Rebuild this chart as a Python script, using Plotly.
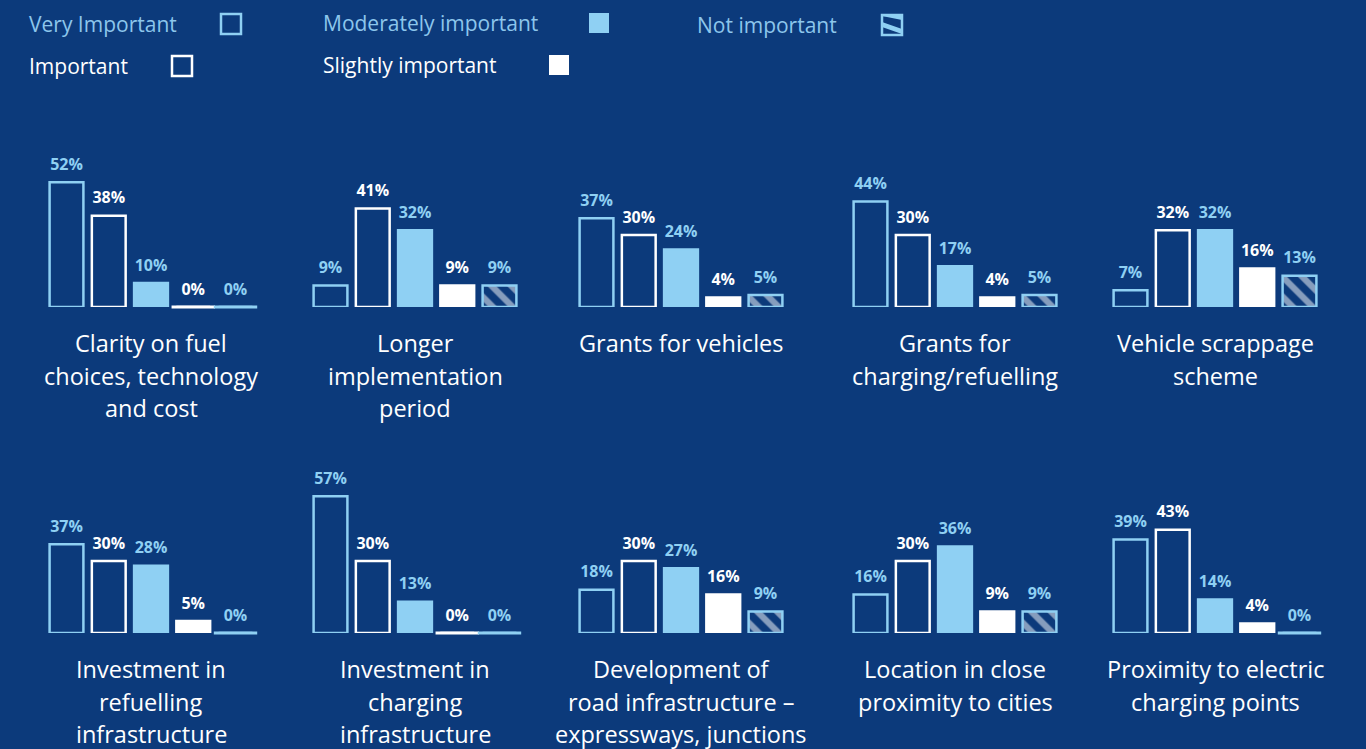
import plotly.graph_objects as go

# Survey responses (% of respondents) per support measure
series = ["Very Important", "Important", "Moderately important",
          "Slightly important", "Not important"]

measures = [
    ["Clarity on fuel", "choices, technology", "and cost"],
    ["Longer", "implementation", "period"],
    ["Grants for vehicles"],
    ["Grants for", "charging/refuelling"],
    ["Vehicle scrappage", "scheme"],
    ["Investment in", "refuelling", "infrastructure"],
    ["Investment in", "charging", "infrastructure"],
    ["Development of", "road infrastructure –", "expressways, junctions"],
    ["Location in close", "proximity to cities"],
    ["Proximity to electric", "charging points"],
]

very_important = [52, 9, 37, 44, 7, 37, 57, 18, 16, 39]
important = [38, 41, 30, 30, 32, 30, 30, 30, 30, 43]
moderately_important = [10, 32, 24, 17, 32, 28, 13, 27, 36, 14]
slightly_important = [0, 9, 4, 4, 16, 5, 0, 16, 9, 4]
not_important = [0, 9, 5, 5, 13, 0, 0, 9, 9, 0]

BG = "#0c3a7b"
LIGHT = "#8fd0f3"
LEGEND_LIGHT = "#8cc6ec"
WHITE = "#ffffff"
FONT = "Open Sans"

W, H = 1366, 749

# per-series styling
fill_colors = [BG, BG, LIGHT, WHITE, BG]
line_colors = [LIGHT, WHITE, LIGHT, WHITE, LIGHT]
pattern_shapes = ["", "", "", "", "\\"]
label_colors = [LIGHT, WHITE, LIGHT, WHITE, LIGHT]

col_centers = [151, 415, 681, 955, 1215]
row_bases = [307, 633]
row_label_top = [343, 669]
px_per_pct = 2.4
y_max = 60
slot = 42.25

fig = go.Figure()
layout_axes = {}

for i, label_lines in enumerate(measures):
    r, c = divmod(i, 5)
    vals = [very_important[i], important[i], moderately_important[i],
            slightly_important[i], not_important[i]]
    ax = "" if i == 0 else str(i + 1)
    xa, ya = "x" + ax, "y" + ax

    cx = col_centers[c]
    x0 = (cx - 2.5 * slot) / W
    x1 = (cx + 2.5 * slot) / W
    base = row_bases[r]
    y0 = 1 - base / H
    y1 = 1 - (base - y_max * px_per_pct) / H

    layout_axes["xaxis" + ax] = dict(domain=[x0, x1], anchor=ya, visible=False,
                                     type="category", range=[-0.5, 4.5],
                                     categoryorder="array", categoryarray=series)
    layout_axes["yaxis" + ax] = dict(domain=[y0, y1], anchor=xa, visible=False,
                                     range=[0, y_max])

    fig.add_trace(go.Bar(
        x=series, y=vals, xaxis=xa, yaxis=ya, width=0.8,
        marker=dict(color=fill_colors,
                    line=dict(color=line_colors, width=2.5),
                    pattern=dict(shape=pattern_shapes, fgcolor=LIGHT,
                                 bgcolor=BG, size=14, solidity=0.45)),
        showlegend=False, hoverinfo="skip"))

    # flat marks for zero responses
    zx = [s for s, v in zip(series, vals) if v == 0]
    zc = [lc for lc, v in zip(line_colors, vals) if v == 0]
    if zx:
        fig.add_trace(go.Scatter(
            x=zx, y=[0] * len(zx), xaxis=xa, yaxis=ya, mode="markers",
            marker=dict(symbol="line-ew", size=31, line=dict(color=zc, width=3)),
            showlegend=False, hoverinfo="skip", cliponaxis=False))

    # value labels, lifted by an invisible marker
    fig.add_trace(go.Scatter(
        x=series, y=vals, xaxis=xa, yaxis=ya, mode="markers+text",
        marker=dict(size=12, opacity=0),
        text=[f"{v}%" for v in vals], textposition="top center",
        textfont=dict(family=FONT, size=16, color=label_colors, weight="bold"),
        showlegend=False, hoverinfo="skip", cliponaxis=False))

    for k, line in enumerate(label_lines):
        fig.add_annotation(
            x=cx / W, y=1 - (row_label_top[r] + 32.5 * k) / H,
            xref="paper", yref="paper", xanchor="center", yanchor="middle",
            text=line, showarrow=False,
            font=dict(family=FONT, size=23.5, color=WHITE))

# legend row drawn as text + swatches
legend_items = [
    ("Very Important", 27, 24, 220, LEGEND_LIGHT, LIGHT, "outline"),
    ("Moderately important", 321, 23, 588, LEGEND_LIGHT, LIGHT, "fill"),
    ("Not important", 695, 25, 881, LEGEND_LIGHT, LIGHT, "hatch"),
    ("Important", 27, 66, 171, WHITE, WHITE, "outline"),
    ("Slightly important", 321, 65, 548, WHITE, WHITE, "fill"),
]
px = lambda v: v / W
py = lambda v: 1 - v / H
shapes = []
for name, tx, ty, sx, tcol, col, kind in legend_items:
    fig.add_annotation(x=tx / W, y=1 - ty / H, xref="paper", yref="paper",
                       xanchor="left", yanchor="middle", text=name,
                       showarrow=False,
                       font=dict(family=FONT, size=21, color=tcol))
    sy0, sy1 = ty - 10, ty + 10
    bx0, bx1 = sx + 1, sx + 21
    if kind == "fill":
        shapes.append(dict(type="rect", xref="paper", yref="paper",
                           x0=px(bx0), x1=px(bx1), y0=py(sy1), y1=py(sy0),
                           fillcolor=col, line=dict(width=0)))
    else:
        shapes.append(dict(type="rect", xref="paper", yref="paper",
                           x0=px(bx0), x1=px(bx1), y0=py(sy1), y1=py(sy0),
                           fillcolor=BG, line=dict(color=col, width=2.5)))
        if kind == "hatch":
            path = (f"M {px(bx0)},{py(sy0)} L {px(bx1)},{py(sy0)} "
                    f"L {px(bx1)},{py(sy0 + 5)} L {px(bx0)},{py(sy0 + 1)} Z "
                    f"M {px(bx0)},{py(sy0 + 7)} L {px(bx1)},{py(sy0 + 14)} "
                    f"L {px(bx1)},{py(sy0 + 19)} L {px(bx0)},{py(sy0 + 12)} Z")
            shapes.append(dict(type="path", xref="paper", yref="paper",
                               path=path, fillcolor=col, line=dict(width=0)))

fig.update_layout(
    width=W, height=H, margin=dict(l=0, r=0, t=0, b=0),
    paper_bgcolor=BG, plot_bgcolor=BG, showlegend=False,
    shapes=shapes, bargap=0.2, **layout_axes)

fig.write_html("out.html")
